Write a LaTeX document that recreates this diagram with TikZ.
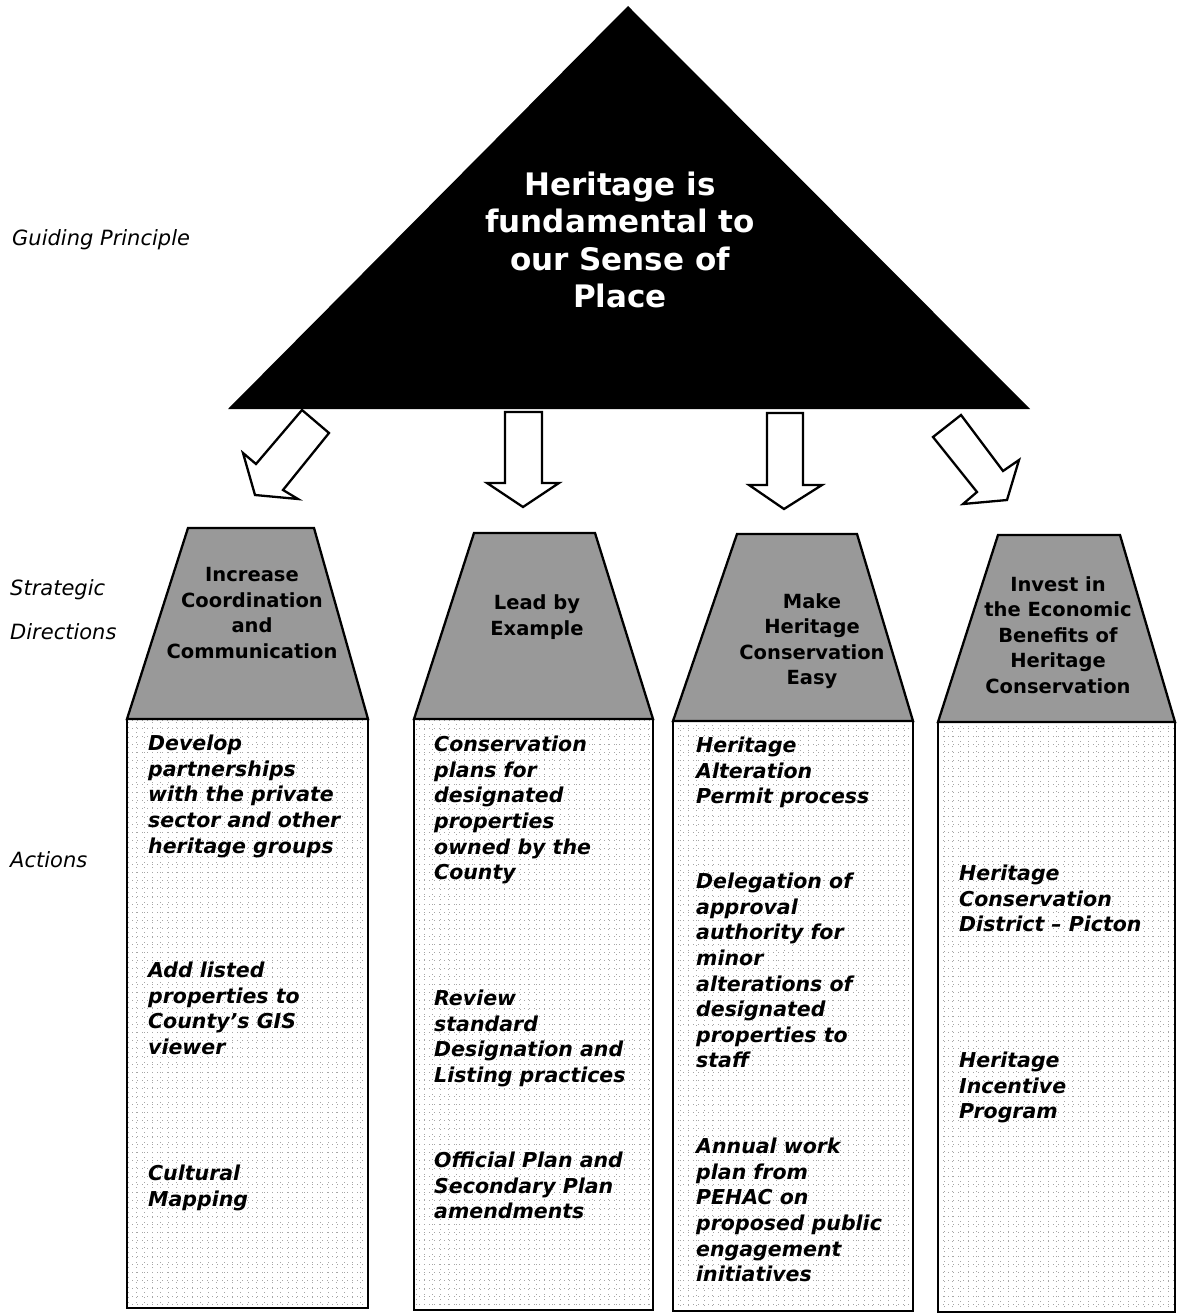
\documentclass[tikz,border=0pt]{standalone}
\usepackage{fontspec}
\setmainfont{DejaVu Sans}
\usetikzlibrary{positioning}

\tikzset{
  rowlabel/.style={anchor=west, inner sep=0pt, font=\fontsize{21}{25}\selectfont\itshape},
  actiontext/.style={anchor=north west, inner sep=0pt, align=left,
    font=\fontsize{20.5}{25.6}\selectfont\bfseries\itshape},
  dirtext/.style={inner sep=0pt, align=center, font=\fontsize{19.5}{25.5}\selectfont\bfseries},
  dirshape/.style={draw=black, line width=2.3pt, fill=black!40, line join=miter},
  actionbox/.style={draw=black, line width=2.3pt},
  dotgrid/.style={black!35, line width=0.6pt, dash pattern=on 0.8pt off 4.2pt},
  blockarrow/.style={draw=black, line width=2.3pt, fill=white, line join=miter},
}

\begin{document}
\begin{tikzpicture}[x=1pt, y=-1pt]
    \useasboundingbox (0,0) rectangle (1178,1314);

    % guiding principle
    \fill[black] (628,6) -- (1030,409) -- (228,409) -- cycle;
    \node[inner sep=0pt, align=center, text=white,
          font=\fontsize{31}{37.5}\selectfont\bfseries] (principle) at (620,240)
          {Heritage is\\fundamental to\\our Sense of\\Place};

    % arrows down to the directions
    \draw[blockarrow] (302,410) -- (329,433) -- (283,490) -- (298,499) -- (255,495) -- (243,453) -- (256,464) -- cycle;
    \draw[blockarrow] (505,412) -- (542,412) -- (542,483) -- (559,483) -- (523,507) -- (487,483) -- (505,483) -- cycle;
    \draw[blockarrow] (767,413) -- (803,413) -- (803,485) -- (822,485) -- (784,509) -- (749,485) -- (767,485) -- cycle;
    \draw[blockarrow] (961,415) -- (1003,471) -- (1019,460) -- (1007,500) -- (963,504) -- (977,492) -- (933,437) -- cycle;

    % action columns
    \foreach \xa/\ya/\xb/\yb in {127/719/368/1308, 414/719/653/1310, 673/721/913/1311, 938/722/1175/1312} {
        \draw[dotgrid, step=8pt] (\xa,\ya) grid (\xb,\yb);
        \draw[actionbox] (\xa,\ya) rectangle (\xb,\yb);
    }

    % strategic directions
    \draw[dirshape] (188,528) -- (314,528) -- (368,719) -- (127,719) -- cycle;
    \draw[dirshape] (474,533) -- (595,533) -- (653,719) -- (414,719) -- cycle;
    \draw[dirshape] (737,534) -- (857,534) -- (913,721) -- (673,721) -- cycle;
    \draw[dirshape] (998,535) -- (1120,535) -- (1175,722) -- (938,722) -- cycle;

    \node[dirtext] (dir1) at (252,613) {Increase\\Coordination\\and\\Communication};
    \node[dirtext] (dir2) at (537,617) {Lead by\\Example};
    \node[dirtext] (dir3) at (812,641) {Make\\Heritage\\Conservation\\Easy};
    \node[dirtext] (dir4) at (1058,635) {Invest in\\the Economic\\Benefits of\\Heritage\\Conservation};

    % actions
    \node[actiontext] (act1a) at (148,735) {Develop\\partnerships\\with the private\\sector and other\\heritage groups};
    \node[actiontext] (act1b) at (148,962) {Add listed\\properties to\\County’s GIS\\viewer};
    \node[actiontext] (act1c) at (148,1165) {Cultural\\Mapping};

    \node[actiontext] (act2a) at (434,736) {Conservation\\plans for\\designated\\properties\\owned by the\\County};
    \node[actiontext] (act2b) at (434,990) {Review\\standard\\Designation and\\Listing practices};
    \node[actiontext] (act2c) at (434,1152) {Official Plan and\\Secondary Plan\\amendments};

    \node[actiontext] (act3a) at (696,737) {Heritage\\Alteration\\Permit process};
    \node[actiontext] (act3b) at (696,873) {Delegation of\\approval\\authority for\\minor\\alterations of\\designated\\properties to\\staff};
    \node[actiontext] (act3c) at (696,1138) {Annual work\\plan from\\PEHAC on\\proposed public\\engagement\\initiatives};

    \node[actiontext] (act4a) at (959,865) {Heritage\\Conservation\\District – Picton};
    \node[actiontext] (act4b) at (959,1052) {Heritage\\Incentive\\Program};

    % row labels
    \node[rowlabel] (guiding) at (12,240) {Guiding Principle};
    \node[rowlabel] (strategic) at (10,590) {Strategic};
    \node[rowlabel, below=42pt of strategic.west, anchor=west] (directions) {Directions};
    \node[rowlabel] (actions) at (10,860) {Actions};
\end{tikzpicture}
\end{document}
